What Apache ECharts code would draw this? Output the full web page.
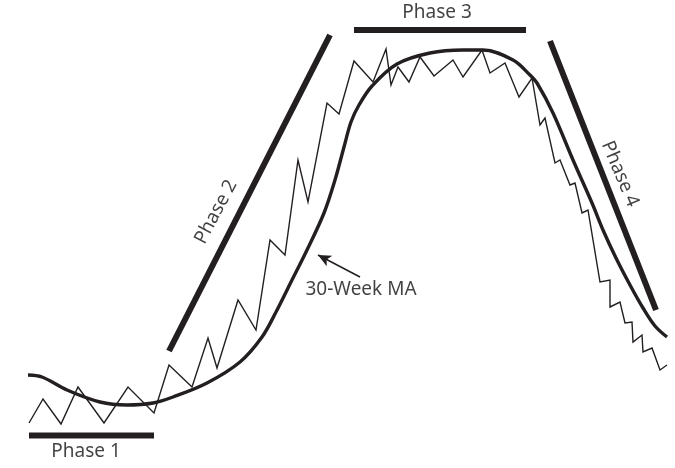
<!DOCTYPE html>
<html>
<head>
<meta charset="utf-8">
<script src="https://cdn.jsdelivr.net/npm/echarts@6/dist/echarts.min.js"></script>
<style>html,body{margin:0;padding:0;background:#fff;}#c{width:675px;height:468px;}</style>
</head>
<body>
<div id="c"></div>
<script>
// Price zigzag (x, y in picture units; y grows downward)
var priceX = [29,43,61,78,104,128,154,169,192,208,217,238,256,270,285,298,308,327,339,354,373,386,391,398,409,420,434,453,463,482,490,505,519,532,540,545,555,560,570,575,582,588,600,610,610,620,625,632,633,642,643,652,660,667];
var priceY = [423,399,424,387,423,387,413,365,387,338,368,300,330,240,255,160,202,103,114,61,82,49,85,67,82,57,76,60,77,50,73,63,97,78,125,118,163,160,185,183,213,210,282,280,307,302,323,322,342,335,352,348,370,365];
// 30-week moving average
var maX = [28,42,67,100,127,153,173,207,240,262,276,292,307,324,335,344,351,359,372,397,430,463,483,513,530,537,553,573,592,603,616,630,643,655,667];
var maY = [375,377,390,402,405,403,397,383,362,337,312,280,250,213,180,147,122,105,86,64,53,50,50,60,75,83,113,160,203,230,258,285,308,326,337];
// Phase bars (start/end)
var phaseNames = ['Phase 1','Phase 2','Phase 3','Phase 4'];
var phaseBars = [[[29,435.5],[154,435.5]],[[169,351],[330,35]],[[354,30],[526,30]],[[550,41],[656,310]]];
var phaseLabelPos = [[86,452],[216,212],[437,13],[620,174]];
var phaseLabelRot = [0,62,0,-67];
var maLabel = '30-Week MA';
var maLabelPos = [361,290];
var arrowFrom = [360,277];
var arrowTo = [318,255];

function zip(xs, ys){ return xs.map(function(x,i){return [x, ys[i]];}); }

var ink = '#231f20';
var font = 'Noto Sans';
var series = [];
series.push({type:'line', data: zip(priceX, priceY), symbol:'none', lineStyle:{color:ink, width:1.4, join:'miter', miterLimit:10}, silent:true,
  markLine:{silent:true, symbol:['none','arrow'], symbolSize:[9,13], label:{show:false},
    lineStyle:{color:ink, width:1.5, type:'solid'},
    data:[[{coord:arrowFrom},{coord:arrowTo}]]}});
series.push({type:'line', data: zip(maX, maY), symbol:'none', smooth:0.35, lineStyle:{color:ink, width:3.4}, silent:true});
phaseBars.forEach(function(b){
  series.push({type:'line', data:b, symbol:'none', lineStyle:{color:ink, width:6, cap:'butt'}, silent:true});
});
var labelData = phaseNames.map(function(n,i){
  return {name:n, value:phaseLabelPos[i], label:{rotate:phaseLabelRot[i]}};
});
labelData.push({name:maLabel, value:maLabelPos, label:{rotate:0}});
series.push({type:'scatter', data:labelData, symbolSize:1, itemStyle:{color:'rgba(0,0,0,0)'}, silent:true,
  label:{show:true, position:'inside', formatter:'{b}', color:'#111111', fontFamily:font, fontSize:19, align:'center', verticalAlign:'middle'}});

var chart = echarts.init(document.getElementById('c'));
chart.setOption({
  animation:false,
  backgroundColor:'#ffffff',
  grid:{left:0,right:0,top:0,bottom:0},
  xAxis:{type:'value', min:0, max:675, show:false},
  yAxis:{type:'value', min:0, max:468, inverse:true, show:false},
  series:series
});
</script>
</body>
</html>
